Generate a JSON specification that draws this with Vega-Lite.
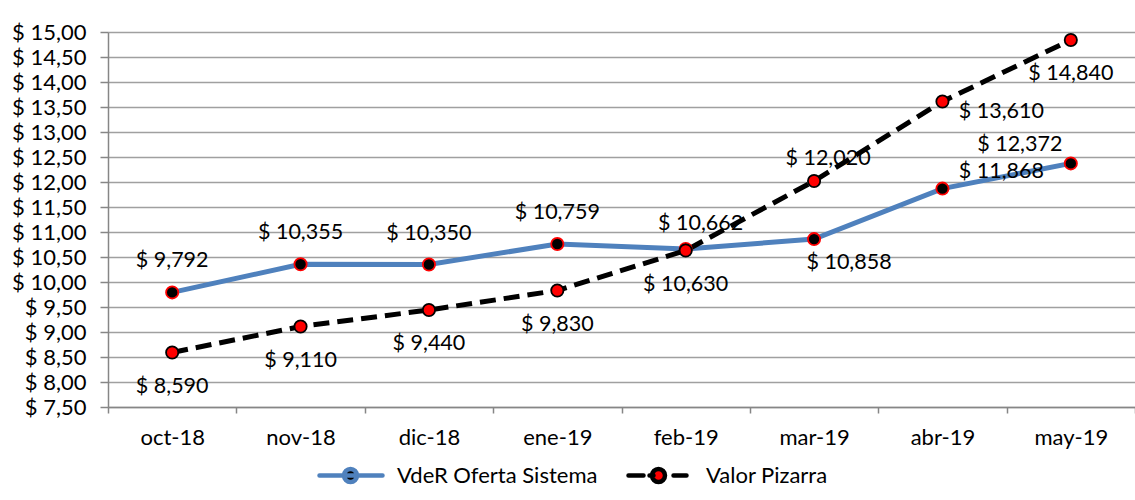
{
  "$schema": "https://vega.github.io/schema/vega-lite/v6.json",
  "width": 1027,
  "height": 375,
  "autosize": "none",
  "padding": {"left": 108, "top": 32, "right": 0, "bottom": 93},
  "background": "white",
  "config": {
    "font": "Lato",
    "view": {"stroke": null},
    "locale": {"number": {"decimal": ",", "thousands": ".", "grouping": [3], "currency": ["$ ", ""]}},
    "axis": {"labelFont": "Lato", "labelFontSize": 22, "labelColor": "black", "domainColor": "#868686", "tickColor": "#868686", "domainWidth": 1.5, "tickWidth": 1.5, "title": null}
  },
  "data": {
    "values": [
      {"mes": "oct-18", "serie": "VdeR Oferta Sistema", "valor": 9.792},
      {"mes": "nov-18", "serie": "VdeR Oferta Sistema", "valor": 10.355},
      {"mes": "dic-18", "serie": "VdeR Oferta Sistema", "valor": 10.350},
      {"mes": "ene-19", "serie": "VdeR Oferta Sistema", "valor": 10.759},
      {"mes": "feb-19", "serie": "VdeR Oferta Sistema", "valor": 10.662},
      {"mes": "mar-19", "serie": "VdeR Oferta Sistema", "valor": 10.858},
      {"mes": "abr-19", "serie": "VdeR Oferta Sistema", "valor": 11.868},
      {"mes": "may-19", "serie": "VdeR Oferta Sistema", "valor": 12.372},
      {"mes": "oct-18", "serie": "Valor Pizarra", "valor": 8.590},
      {"mes": "nov-18", "serie": "Valor Pizarra", "valor": 9.110},
      {"mes": "dic-18", "serie": "Valor Pizarra", "valor": 9.440},
      {"mes": "ene-19", "serie": "Valor Pizarra", "valor": 9.830},
      {"mes": "feb-19", "serie": "Valor Pizarra", "valor": 10.630},
      {"mes": "mar-19", "serie": "Valor Pizarra", "valor": 12.020},
      {"mes": "abr-19", "serie": "Valor Pizarra", "valor": 13.610},
      {"mes": "may-19", "serie": "Valor Pizarra", "valor": 14.840}
    ]
  },
  "encoding": {
    "x": {
      "field": "mes", "type": "nominal",
      "sort": ["oct-18", "nov-18", "dic-18", "ene-19", "feb-19", "mar-19", "abr-19", "may-19"],
      "scale": {"paddingInner": 0, "paddingOuter": 0},
      "axis": {"labelAngle": 0, "tickBand": "extent", "tickSize": 6, "labelPadding": 14, "grid": false}
    },
    "y": {
      "field": "valor", "type": "quantitative",
      "scale": {"domain": [7.5, 15], "nice": false, "zero": false},
      "axis": {"values": [7.5, 8, 8.5, 9, 9.5, 10, 10.5, 11, 11.5, 12, 12.5, 13, 13.5, 14, 14.5, 15], "format": "$.2f", "tickSize": 8, "labelPadding": 14, "grid": true, "gridColor": "#a0a0a0", "gridWidth": 1.5}
    }
  },
  "layer": [
    {
      "transform": [{"filter": "datum.serie === 'VdeR Oferta Sistema'"}],
      "mark": {"type": "line", "strokeWidth": 5},
      "encoding": {
        "stroke": {
          "field": "serie", "type": "nominal",
          "scale": {"domain": ["VdeR Oferta Sistema", "Valor Pizarra"], "range": ["#4F81BD", "black"]},
          "legend": {
            "orient": "none", "legendX": 209, "legendY": 431, "direction": "horizontal", "title": null,
            "labelFontSize": 22, "labelFont": "Lato", "labelColor": "black", "labelLimit": 400,
            "symbolSize": 400, "symbolStrokeWidth": 4.5, "labelOffset": 55, "columnPadding": 21,
            "symbolType": "M-1,0L5.3,0",
            "encode": {
              "symbols": {
                "update": {
                  "shape": {"signal": "datum.value === 'Valor Pizarra' ? 'M-1,0L0.5,0M1.1,0L1.5,0M3.5,0L4.8,0M2.65,0A0.65,0.65,0,1,1,1.35,0A0.65,0.65,0,1,1,2.65,0' : 'M-1,0L5.3,0M2.75,0A0.65,0.65,0,1,1,1.45,0A0.65,0.65,0,1,1,2.75,0'"},
                  "fill": {"signal": "datum.value === 'Valor Pizarra' ? 'red' : 'black'"},
                  "strokeCap": {"value": "round"}
                }
              }
            }
          }
        }
      }
    },
    {
      "transform": [{"filter": "datum.serie === 'Valor Pizarra'"}],
      "mark": {"type": "line", "strokeWidth": 5, "strokeDash": [16, 8]},
      "encoding": {
        "stroke": {"field": "serie", "type": "nominal"}
      }
    },
    {
      "transform": [{"filter": "datum.serie === 'VdeR Oferta Sistema'"}],
      "mark": {"type": "point", "shape": "circle", "filled": true, "size": 150, "fill": "black", "stroke": "red", "strokeWidth": 1.8, "opacity": 1},
      "encoding": {}
    },
    {
      "transform": [{"filter": "datum.serie === 'Valor Pizarra'"}],
      "mark": {"type": "point", "shape": "circle", "filled": true, "size": 150, "fill": "red", "stroke": "black", "strokeWidth": 1.8, "opacity": 1},
      "encoding": {}
    },
    {
      "transform": [{"filter": "datum.serie === 'VdeR Oferta Sistema' && indexof(['oct-18','nov-18','dic-18','ene-19'], datum.mes) >= 0"}],
      "mark": {"type": "text", "fontSize": 21.5, "font": "Lato", "color": "black", "dy": -31},
      "encoding": {"text": {"field": "valor", "type": "quantitative", "format": "$.3f"}}
    },
    {
      "transform": [{"filter": "datum.serie === 'VdeR Oferta Sistema' && datum.mes === 'feb-19'"}],
      "mark": {"type": "text", "fontSize": 21.5, "font": "Lato", "color": "black", "dx": 15, "dy": -25},
      "encoding": {"text": {"field": "valor", "type": "quantitative", "format": "$.3f"}}
    },
    {
      "transform": [{"filter": "datum.serie === 'VdeR Oferta Sistema' && datum.mes === 'mar-19'"}],
      "mark": {"type": "text", "fontSize": 21.5, "font": "Lato", "color": "black", "dx": 35, "dy": 24},
      "encoding": {"text": {"field": "valor", "type": "quantitative", "format": "$.3f"}}
    },
    {
      "transform": [{"filter": "datum.serie === 'VdeR Oferta Sistema' && datum.mes === 'abr-19'"}],
      "mark": {"type": "text", "fontSize": 21.5, "font": "Lato", "color": "black", "dx": 59, "dy": -17},
      "encoding": {"text": {"field": "valor", "type": "quantitative", "format": "$.3f"}}
    },
    {
      "transform": [{"filter": "datum.serie === 'VdeR Oferta Sistema' && datum.mes === 'may-19'"}],
      "mark": {"type": "text", "fontSize": 21.5, "font": "Lato", "color": "black", "dx": -51, "dy": -18},
      "encoding": {"text": {"field": "valor", "type": "quantitative", "format": "$.3f"}}
    },
    {
      "transform": [{"filter": "datum.serie === 'Valor Pizarra' && indexof(['oct-18','nov-18','dic-18','ene-19','feb-19','may-19'], datum.mes) >= 0"}],
      "mark": {"type": "text", "fontSize": 21.5, "font": "Lato", "color": "black", "dy": 34},
      "encoding": {"text": {"field": "valor", "type": "quantitative", "format": "$.3f"}}
    },
    {
      "transform": [{"filter": "datum.serie === 'Valor Pizarra' && datum.mes === 'mar-19'"}],
      "mark": {"type": "text", "fontSize": 21.5, "font": "Lato", "color": "black", "dx": 14, "dy": -22},
      "encoding": {"text": {"field": "valor", "type": "quantitative", "format": "$.3f"}}
    },
    {
      "transform": [{"filter": "datum.serie === 'Valor Pizarra' && datum.mes === 'abr-19'"}],
      "mark": {"type": "text", "fontSize": 21.5, "font": "Lato", "color": "black", "dx": 59, "dy": 10},
      "encoding": {"text": {"field": "valor", "type": "quantitative", "format": "$.3f"}}
    }
  ]
}
